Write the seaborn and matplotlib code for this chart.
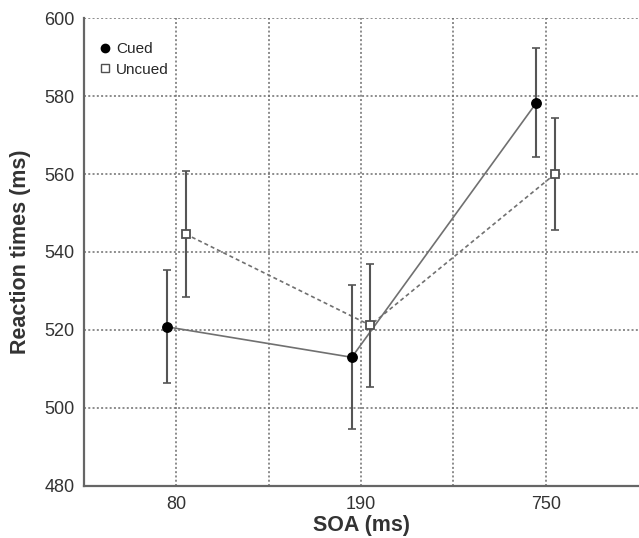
import matplotlib
matplotlib.use("Agg")
import matplotlib.pyplot as plt
from matplotlib.lines import Line2D
import pandas as pd
import seaborn as sns

soa_labels = ['80', '190', '750']
cued_rt = [520.8, 513.0, 578.3]
cued_err = [14.5, 18.5, 14.0]
uncued_rt = [544.6, 521.2, 560.0]
uncued_err = [16.2, 15.8, 14.3]

sns.set_style("white")
plt.rcParams['font.family'] = ['Liberation Sans', 'DejaVu Sans']

fig = plt.figure(figsize=(6.39, 5.38), dpi=100)
ax = fig.add_axes([0.1315, 0.0967, 0.8670, 0.8698])

# categories sit on every other tick, conditions nudged apart
pos = [2 * i + 1 for i in range(len(soa_labels))]
shift = 0.1
df = pd.concat([
    pd.DataFrame({'x': [p - shift for p in pos], 'rt': cued_rt, 'err': cued_err, 'cond': 'Cued'}),
    pd.DataFrame({'x': [p + shift for p in pos], 'rt': uncued_rt, 'err': uncued_err, 'cond': 'Uncued'}),
], ignore_index=True)

line_col = '#707070'
sns.lineplot(data=df, x='x', y='rt', style='cond', dashes={'Cued': '', 'Uncued': (2.4, 1.8)},
             color=line_col, linewidth=1.2, legend=False, ax=ax, zorder=2)

for cond, sub in df.groupby('cond'):
    ax.errorbar(sub['x'], sub['rt'], yerr=sub['err'], fmt='none', ecolor='#555555',
                elinewidth=1.5, capsize=3, capthick=1.2, zorder=3)

cued = df[df['cond'] == 'Cued']
unc = df[df['cond'] == 'Uncued']
ax.plot(cued['x'], cued['rt'], 'o', color='black', markersize=6.8, zorder=4)
ax.plot(unc['x'], unc['rt'], 's', markerfacecolor='white', markeredgecolor='#505050',
        markeredgewidth=1.3, markersize=6.3, zorder=4)

ax.set_xlim(0, 6)
ax.set_ylim(480, 600)
ax.set_xticks([1, 2, 3, 4, 5])
ax.set_xticklabels([soa_labels[0], '', soa_labels[1], '', soa_labels[2]])
ax.set_yticks(range(480, 601, 20))
ax.tick_params(axis='both', labelsize=13, labelcolor='#333333', color='#555555',
               direction='in', length=4, width=1.2, pad=7)
ax.grid(True, linestyle=(0, (1.3, 1.5)), color='#6e6e6e', linewidth=1.1)
for s in ['top', 'right']:
    ax.spines[s].set_visible(False)
for s in ['left', 'bottom']:
    ax.spines[s].set_color('#666666')
    ax.spines[s].set_linewidth(1.6)

ax.set_xlabel('SOA (ms)', fontsize=15.5, fontweight='bold', color='#333333', labelpad=2)
ax.set_ylabel('Reaction times (ms)', fontsize=15.5, fontweight='bold', color='#333333', labelpad=9)

handles = [
    Line2D([], [], marker='o', linestyle='none', color='black', markersize=6),
    Line2D([], [], marker='s', linestyle='none', markerfacecolor='white',
           markeredgecolor='#505050', markersize=5.5),
]
ax.legend(handles, ['Cued', 'Uncued'], loc='upper left', bbox_to_anchor=(0.0, 0.975),
          frameon=False, fontsize=11, handletextpad=0.1, borderaxespad=0.4,
          labelspacing=0.45, handlelength=1.2)

fig.savefig('out.png', dpi=100)
